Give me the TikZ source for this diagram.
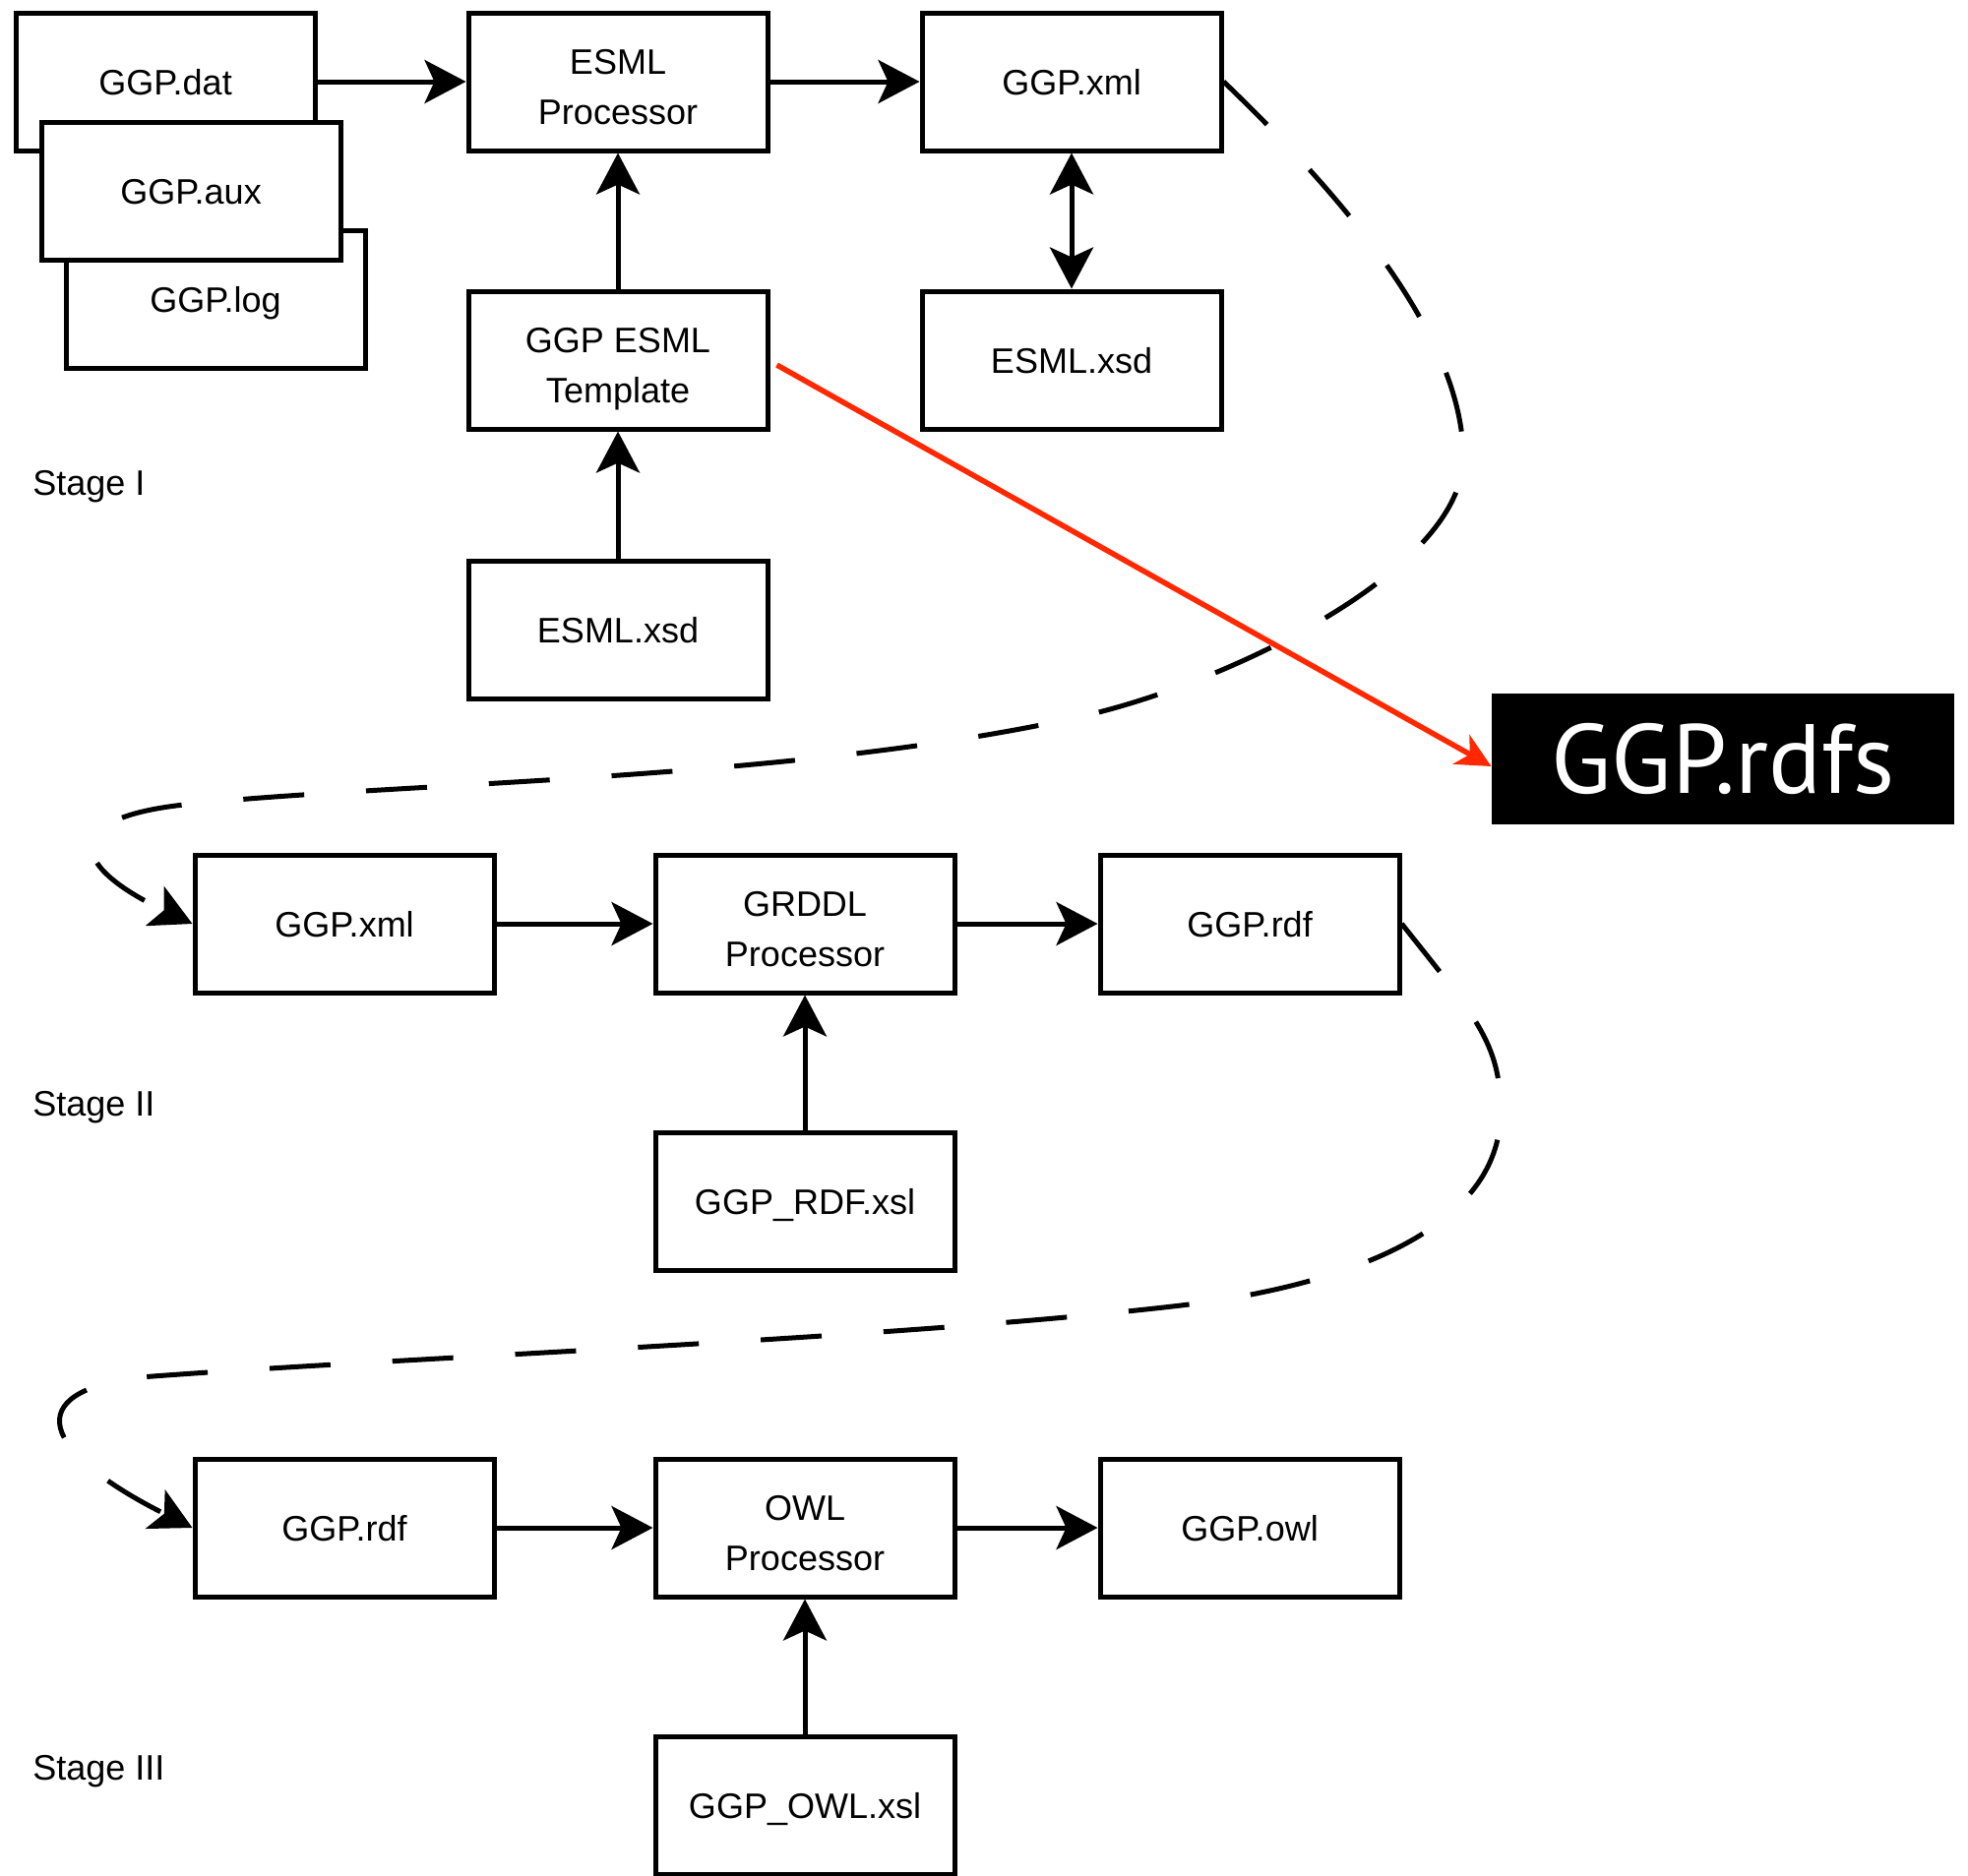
\documentclass[tikz,border=0pt]{standalone}
\usepackage{fontspec}
\setmainfont{Liberation Sans}
\newfontfamily\rdfsfont{PT Sans}
\usetikzlibrary{arrows.meta}
\definecolor{redarrow}{RGB}{255,40,0}
\begin{document}
\begin{tikzpicture}[x=0.5pt,y=-0.5pt,
  box/.style={draw, line width=2.5pt, fill=white, minimum width=152pt, minimum height=70pt,
    inner sep=0pt, font=\fontsize{18}{25.5}\selectfont, align=center, text height=13.5pt, text depth=0pt},
  twoline/.style={text height=43.4pt, text depth=0pt},
  stagelbl/.style={anchor=base west, inner sep=0pt, font=\fontsize{18}{22}\selectfont},
  conn/.style={line width=2.5pt, -{Stealth[length=21pt,width=22pt,inset=5pt]}},
  biconn/.style={line width=2.5pt, {Stealth[length=21pt,width=22pt,inset=5pt]}-{Stealth[length=21pt,width=22pt,inset=5pt]}},
  dashconn/.style={line width=2.5pt, dash pattern=on 31pt off 31.5pt, -{Stealth[length=21pt,width=22pt,inset=5pt]}},
  redconn/.style={line width=2.75pt, draw=redarrow, -{Stealth[length=17.5pt,width=17pt,inset=5pt,fill=redarrow]}},
  rdfsbox/.style={fill=black, minimum width=235pt, minimum height=66.5pt, inner sep=0pt, text=white,
    font=\rdfsfont\fontsize{50}{50}\selectfont}
]
\useasboundingbox (0,0) rectangle (2000,1906);
% Stage I
\node[box] (dat) at (168,83) {GGP.dat};
\node[box] (log) at (219,304) {GGP.log};
\node[box] (aux) at (194,194) {GGP.aux};
\node[box,twoline] (proc) at (628,83) {ESML\\Processor};
\node[box] (xmlA) at (1089,83) {GGP.xml};
\node[box,twoline] (tmpl) at (628,366) {GGP ESML\\Template};
\node[box] (xsdA) at (1089,366) {ESML.xsd};
\node[box] (xsdB) at (628,640) {ESML.xsd};
\node[rdfsbox] (rdfs) at (1751,771.5) {GGP.rdfs};
\node[stagelbl] (s1) at (33,503) {Stage I};
% Stage II
\node[box] (xmlB) at (350,939) {GGP.xml};
\node[box,twoline] (grddl) at (818,939) {GRDDL\\Processor};
\node[box] (rdfA) at (1270,939) {GGP.rdf};
\node[box] (rdfxsl) at (818,1221) {GGP\_RDF.xsl};
\node[stagelbl] (s2) at (33,1134) {Stage II};
% Stage III
\node[box] (rdfB) at (350,1553) {GGP.rdf};
\node[box,twoline] (owlp) at (818,1553) {OWL\\Processor};
\node[box] (owl) at (1270,1553) {GGP.owl};
\node[box] (owlxsl) at (818,1835) {GGP\_OWL.xsl};
\node[stagelbl] (s3) at (33,1809) {Stage III};
% connectors
\draw[conn] (dat.east) -- (proc.west);
\draw[conn] (proc.east) -- (xmlA.west);
\draw[conn] (tmpl.north) -- (proc.south);
\draw[conn] (xsdB.north) -- (tmpl.south);
\draw[biconn] (xmlA.south) -- (xsdA.north);
\draw[conn] (xmlB.east) -- (grddl.west);
\draw[conn] (grddl.east) -- (rdfA.west);
\draw[conn] (rdfxsl.north) -- (grddl.south);
\draw[conn] (rdfB.east) -- (owlp.west);
\draw[conn] (owlp.east) -- (owl.west);
\draw[conn] (owlxsl.north) -- (owlp.south);
\draw[redconn] ([xshift=3.5pt,yshift=-2.5pt]tmpl.east) -- ([yshift=-3.75pt]rdfs.west);
% dashed flows
\draw[dashconn] (xmlA.east) .. controls (1360,195) and (1487,340) .. (1487,465)
  .. controls (1487,580) and (1246,695) .. (1100,728)
  .. controls (808,794) and (400,795) .. (187,818)
  .. controls (60,832) and (70,880) .. (xmlB.west);
\draw[dashconn] (rdfA.east) .. controls (1499,1033) and (1525,1060) .. (1525,1130)
  .. controls (1525,1250) and (1367,1307) .. (1200,1327)
  .. controls (900,1362) and (400,1380) .. (142,1400)
  .. controls (20,1415) and (40,1475) .. (rdfB.west);
\end{tikzpicture}
\end{document}
